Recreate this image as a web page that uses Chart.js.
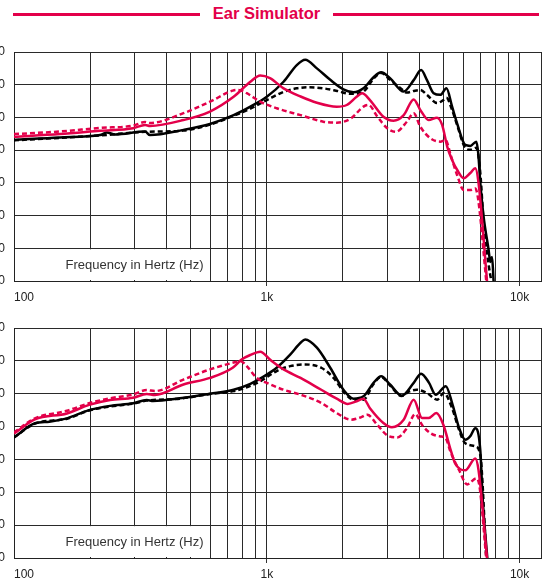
<!DOCTYPE html>
<html><head><meta charset="utf-8">
<script src="https://cdn.jsdelivr.net/npm/chart.js@4.4.1/dist/chart.umd.min.js"></script>
<style>
html,body{margin:0;padding:0;background:#fff;overflow:hidden;width:542px;height:583px;position:relative;font-family:"Liberation Sans",Arial,sans-serif}
canvas{position:absolute;left:-40px}
#c1{top:40px}
#c2{top:318px}
.tl{position:absolute;top:13px;height:3px;background:#e3004a}
#title{position:absolute;left:0;width:533px;top:4px;text-align:center;font-weight:bold;font-size:16.5px;color:#e3004a;line-height:normal}
</style></head>
<body>
<div class="tl" style="left:13px;width:187px"></div>
<div class="tl" style="left:333px;width:206px"></div>
<div id="title">Ear Simulator</div>
<canvas id="c1" width="582" height="271"></canvas>
<canvas id="c2" width="582" height="270"></canvas>
<script>
// ---- axis ticks ----
const xTickValues = [100, 1000, 10000];
const xTickLabels = ['100', '1k', '10k'];
const xGridHz = [100,200,300,400,500,600,700,800,900,1000,2000,3000,4000,5000,6000,7000,8000,9000,10000,12150];
const yTickValues = [0,10,20,30,40,50,60,70];
const axisLabel = 'Frequency in Hertz (Hz)';
const titleText = 'Ear Simulator';

// ---- top panel ----
const topBlackSolidHz = [100,152,219,233,251,330,345,468,596,739,861,1000,1165,1314,1419,1578,1782,2009,2203,2412,2644,2833,3072,3478,3811,4077,4301,4570,4858,5134,5406,5658,6096,6381,6740,6861,6990,7203,7540,7657,7780,7890];
const topBlackSolidDb = [43.1,43.9,44.6,45.4,44.8,45.7,44.6,46.2,48.0,50.7,53.3,56.3,60.9,66.0,67.6,65.0,61.5,58.6,57.7,58.9,62.3,63.8,62.0,57.9,61.4,64.5,61.4,57.4,56.9,58.9,53.3,48.2,41.6,41.3,42.6,39.0,30.0,19.7,9.5,5.8,7.3,0];

const topBlackDashHz = [100,219,330,468,596,739,861,1000,1165,1314,1472,1673,1898,2152,2402,2640,2833,3072,3372,3582,3811,4046,4301,4720,5012,5134,5406,5658,6096,6381,6740,6990,7203,7540,7727];
const topBlackDashDb = [43.0,44.5,45.6,46.0,47.8,50.5,52.7,55.3,57.8,58.9,59.2,58.9,58.1,57.2,57.8,61.8,63.6,61.5,59.0,57.6,58.1,58.4,56.9,54.4,55.4,56.0,52.3,47.7,40.7,40.1,40.7,33.0,18.0,5.0,0];

const topRedSolidHz = [100,152,219,296,330,345,468,596,739,861,942,1029,1165,1360,1578,1891,2071,2266,2383,2558,2892,3173,3480,3811,4046,4365,4712,4937,5171,5406,5658,6015,6381,6677,6880,7431];
const topRedSolidDb = [44.1,44.9,45.9,46.7,47.7,47.4,49.2,51.8,56.3,60.9,62.8,62.0,58.9,56.4,54.5,53.3,53.8,56.3,57.4,55.3,50.2,49.0,50.7,55.5,52.3,49.2,49.9,47.7,41.1,37.0,34.0,31.4,33.0,34.5,29.9,0];

const topRedDashHz = [100,152,219,296,330,345,468,596,733,772,833,942,1094,1360,1672,1891,2152,2412,2526,2739,2996,3241,3582,3811,4046,4443,4858,5093,5337,5658,6015,6381,6677,6861,7380];
const topRedDashDb = [44.9,45.7,46.8,47.5,48.6,48.3,51.3,54.8,58.2,58.4,57.4,54.8,52.8,50.7,48.7,48.4,49.7,53.3,53.8,50.2,46.7,45.6,48.7,51.3,47.2,43.6,42.6,43.1,38.5,32.4,27.8,27.8,28.3,24.8,0];

// ---- bottom panel ----
const botBlackSolidHz = [100,121,138,162,198,240,296,335,355,453,596,739,861,1000,1094,1237,1360,1419,1578,1782,2009,2203,2412,2644,2833,3072,3418,3811,4077,4383,4656,5105,5428,5766,6096,6381,6677,6990,7150,7450];
const botBlackSolidDb = [36.7,41.0,41.5,42.5,45.0,46.3,47.1,48.1,47.8,48.6,50.0,51.2,53.0,55.8,57.9,61.9,65.5,66.5,64.0,57.9,51.2,48.5,49.2,53.3,55.3,52.8,49.4,53.3,56.1,53.3,49.7,52.3,46.7,39.5,36.0,37.1,39.5,32.8,17.5,0];

const botBlackDashHz = [100,121,162,198,240,296,335,453,596,739,861,942,1094,1237,1419,1642,1838,2009,2203,2412,2644,2833,3072,3418,3660,3914,4301,4720,5017,5406,5766,6096,6677,6990,7380];
const botBlackDashDb = [36.7,40.9,42.4,44.9,46.1,47.0,47.9,48.5,49.9,50.8,52.4,53.8,56.9,58.4,58.9,57.9,54.8,50.7,48.2,48.2,53.0,55.1,52.5,49.3,50.7,51.2,50.2,48.2,50.2,45.6,38.9,34.9,34.0,31.3,0];

const botRedSolidHz = [100,121,162,198,240,296,335,361,468,596,733,795,861,942,1029,1165,1360,1642,1891,2090,2266,2412,2558,2892,3124,3478,3811,4113,4365,4684,4996,5312,5565,6096,6677,6880,7431];
const botRedSolidDb = [37.9,42.2,44.0,46.6,48.1,48.8,49.9,49.6,52.8,54.8,57.9,60.4,61.8,62.8,60.4,57.4,54.8,51.2,48.5,46.9,47.7,48.5,45.6,41.1,39.8,42.1,48.2,42.6,42.6,44.1,40.5,33.4,28.7,26.7,30.3,26.7,0];

const botRedDashHz = [100,121,162,198,240,296,335,361,468,596,733,789,833,912,1000,1165,1360,1642,1891,2152,2355,2497,2739,2996,3281,3582,3866,4113,4443,4858,5093,5337,5766,6198,6739,6930,7380];
const botRedDashDb = [38.2,42.5,44.8,47.1,48.6,49.8,51.1,50.8,54.3,57.4,59.4,59.9,58.4,54.8,53.3,51.2,49.7,47.2,44.1,42.1,42.8,43.6,40.5,37.3,36.7,39.5,43.8,40.5,38.0,37.0,36.5,32.2,26.7,22.4,24.2,22.1,0];

document.getElementById('title').textContent = titleText;

const RED = '#e3004a', BLACK = '#000';
const FONT = '"Liberation Sans", Arial, sans-serif';
const pts = (hz, db) => hz.map((h, i) => ({x: h, y: db[i]}));

function ds(hz, db, color, dashed) {
  return {
    data: pts(hz, db), borderColor: color, borderWidth: 2.5, pointRadius: 0,
    borderDash: dashed ? [5, 3] : [], cubicInterpolationMode: 'monotone', fill: false
  };
}

const labelBox = {
  id: 'labelBox',
  beforeDatasetsDraw(chart) {
    const {ctx, chartArea, scales} = chart;
    const x0 = chartArea.left + 1;
    const x1 = scales.x.getPixelForValue(575);
    const y0 = scales.y.getPixelForValue(10) + 1;
    const y1 = chartArea.bottom - 1;
    ctx.save();
    ctx.fillStyle = '#fff';
    ctx.fillRect(x0, y0, x1 - x0, y1 - y0);
    ctx.fillStyle = '#333';
    ctx.font = '13px ' + FONT;
    ctx.textAlign = 'right';
    ctx.textBaseline = 'alphabetic';
    ctx.fillText(axisLabel, x1 - 2.5, (y0 + y1) / 2 + 4.5);
    ctx.restore();
  }
};

function zeroPad(s) { s.paddingTop = 0; s.paddingBottom = 0; s.paddingLeft = 0; s.paddingRight = 0; }

function makeChart(id, sets, padTop) {
  new Chart(document.getElementById(id), {
    type: 'line',
    data: {datasets: sets},
    plugins: [labelBox],
    options: {
      responsive: false, animation: false,
      layout: {padding: {top: padTop, right: 1, left: 0, bottom: 0}},
      plugins: {legend: {display: false}, tooltip: {enabled: false}},
      scales: {
        x: {
          type: 'logarithmic', min: 100, max: 12150,
          afterBuildTicks(s) { s.ticks = xGridHz.map(v => ({value: v})); },
          afterFit(s) { s.height = 30; zeroPad(s); },
          ticks: {
            autoSkip: false, maxRotation: 0, minRotation: 0, align: 'inner', padding: 4,
            color: '#222', font: {size: 12, family: FONT},
            callback(v) { const i = xTickValues.indexOf(v); return i >= 0 ? xTickLabels[i] : ''; }
          },
          grid: {
            color: '#2a2a2a', lineWidth: 1, drawTicks: true, tickLength: 5,
            tickColor: c => (c.tick && (c.tick.value === 1000 || c.tick.value === 10000)) ? '#333' : 'rgba(0,0,0,0)'
          },
          border: {color: '#222', width: 1}
        },
        y: {
          min: 0, max: 70,
          afterBuildTicks(s) { s.ticks = yTickValues.map(v => ({value: v})); },
          afterFit(s) { s.width = 54; zeroPad(s); },
          ticks: {padding: 9, color: '#222', font: {size: 12, family: FONT}},
          grid: {color: '#2a2a2a', lineWidth: 1, drawTicks: false, tickLength: 0},
          border: {color: '#222', width: 1}
        }
      }
    }
  });
}

makeChart('c1', [
  ds(topRedSolidHz, topRedSolidDb, RED, false),
  ds(topRedDashHz, topRedDashDb, RED, true),
  ds(topBlackSolidHz, topBlackSolidDb, BLACK, false),
  ds(topBlackDashHz, topBlackDashDb, BLACK, true)
], 12);

makeChart('c2', [
  ds(botRedSolidHz, botRedSolidDb, RED, false),
  ds(botRedDashHz, botRedDashDb, RED, true),
  ds(botBlackSolidHz, botBlackSolidDb, BLACK, false),
  ds(botBlackDashHz, botBlackDashDb, BLACK, true)
], 10);
</script>
</body></html>
